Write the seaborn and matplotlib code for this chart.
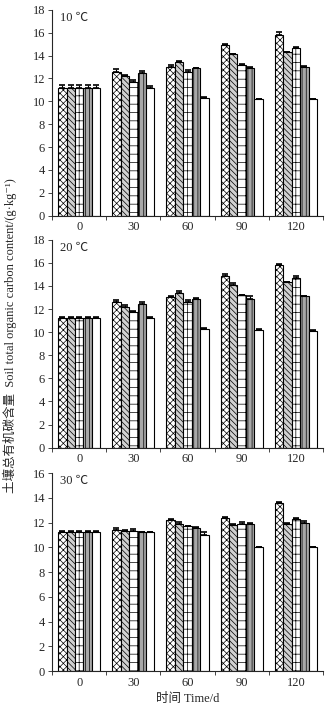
import numpy as np
import pandas as pd
import matplotlib
matplotlib.use("Agg")
import matplotlib.pyplot as plt
import seaborn as sns

# data
days = ["0", "30", "60", "90", "120"]
treatments = ["T1", "T2", "T3", "T4", "T5"]
temps = ["10 ℃", "20 ℃", "30 ℃"]

soc_10 = [[11.2, 11.2, 11.2, 11.2, 11.2],
          [12.6, 12.2, 11.7, 12.5, 11.2],
          [13.0, 13.4, 12.6, 12.9, 10.3],
          [14.9, 14.1, 13.2, 12.9, 10.2],
          [15.8, 14.3, 14.7, 13.0, 10.2]]
err_10 = [[0.2, 0.2, 0.2, 0.2, 0.2],
          [0.25, 0.1, 0.2, 0.15, 0.15],
          [0.2, 0.1, 0.1, 0.05, 0.05],
          [0.1, 0.05, 0.05, 0.1, 0.05],
          [0.25, 0.05, 0.05, 0.1, 0.05]]

soc_20 = [[11.2, 11.2, 11.2, 11.2, 11.2],
          [12.6, 12.2, 11.7, 12.4, 11.2],
          [13.0, 13.4, 12.6, 12.9, 10.3],
          [14.9, 14.1, 13.2, 12.9, 10.2],
          [15.8, 14.3, 14.7, 13.1, 10.1]]
err_20 = [[0.15, 0.15, 0.15, 0.15, 0.15],
          [0.2, 0.15, 0.15, 0.25, 0.15],
          [0.1, 0.15, 0.2, 0.05, 0.05],
          [0.1, 0.15, 0.05, 0.2, 0.1],
          [0.1, 0.05, 0.15, 0.05, 0.05]]

soc_30 = [[11.2, 11.2, 11.2, 11.2, 11.2],
          [11.4, 11.3, 11.3, 11.2, 11.2],
          [12.2, 11.9, 11.7, 11.6, 11.0],
          [12.4, 11.8, 11.9, 11.9, 10.0],
          [13.6, 11.9, 12.3, 12.0, 10.0]]
err_30 = [[0.1, 0.1, 0.1, 0.1, 0.1],
          [0.15, 0.1, 0.15, 0.05, 0.05],
          [0.1, 0.15, 0.05, 0.05, 0.2],
          [0.05, 0.05, 0.15, 0.05, 0.05],
          [0.05, 0.05, 0.05, 0.15, 0.05]]

panels = [(temps[0], soc_10, err_10, 18),
          (temps[1], soc_20, err_20, 18),
          (temps[2], soc_30, err_30, 16)]

hatches = ["xxxxx", "\\\\\\\\\\\\", "++", "||||", ""]
faces = ["white", "#d0d0d0", "white", "#a8a8a8", "white"]

sns.set_style("ticks")
plt.rcParams["font.family"] = ["Liberation Serif", "Noto Sans CJK SC", "DejaVu Sans"]
plt.rcParams["hatch.linewidth"] = 0.5
plt.rcParams["font.size"] = 9

fig = plt.figure(figsize=(3.34, 7.05), dpi=100)
rects = [[0.156, 0.694, 0.811, 0.292],
         [0.156, 0.365, 0.811, 0.295],
         [0.156, 0.048, 0.811, 0.281]]

for rect, (label, vals, errs, ymax) in zip(rects, panels):
    ax = fig.add_axes(rect)
    df = pd.DataFrame([(d, t, vals[i][j]) for i, d in enumerate(days)
                       for j, t in enumerate(treatments)],
                      columns=["day", "trt", "soc"])
    sns.barplot(data=df, x="day", y="soc", hue="trt", order=days,
                hue_order=treatments, width=0.78, errorbar=None,
                edgecolor="black", linewidth=0.8, legend=False, ax=ax)
    bar_sets = list(ax.containers)
    for j, cont in enumerate(bar_sets):
        for i, bar in enumerate(cont.patches):
            bar.set_facecolor(faces[j])
            bar.set_hatch(hatches[j])
            bar.set_edgecolor("black")
            xc = bar.get_x() + bar.get_width() / 2
            ax.errorbar(xc, bar.get_height(), yerr=[[0], [errs[i][j]]],
                        fmt="none", ecolor="black", elinewidth=0.8,
                        capsize=2.5, capthick=1.2)
    ax.set_ylim(0, ymax)
    ax.set_yticks(np.arange(0, ymax + 1, 2))
    ax.set_xlim(-0.5, 4.5)
    ax.set_xticks(np.arange(-0.5, 5, 1), minor=True)
    ax.tick_params(axis="x", which="major", length=0, pad=4, labelsize=9)
    ax.tick_params(axis="x", which="minor", length=3, width=0.6, direction="out")
    ax.tick_params(axis="y", length=3, width=0.6, labelsize=9, pad=2)
    ax.set_xlabel("")
    ax.set_ylabel("")
    sns.despine(ax=ax)
    for s in ["left", "bottom"]:
        ax.spines[s].set_linewidth(0.8)
    ax.text(0.03, 0.99, label, transform=ax.transAxes, ha="left", va="top", fontsize=9)
    if ymax == 16:
        ax.set_xlabel("时间 Time/d", fontsize=9, labelpad=3)

fig.text(0.03, 0.524, "土壤总有机碳含量  Soil total organic carbon content/(g·kg⁻¹)",
         rotation=90, ha="center", va="center", fontsize=9)

fig.savefig("out.png", dpi=100)
